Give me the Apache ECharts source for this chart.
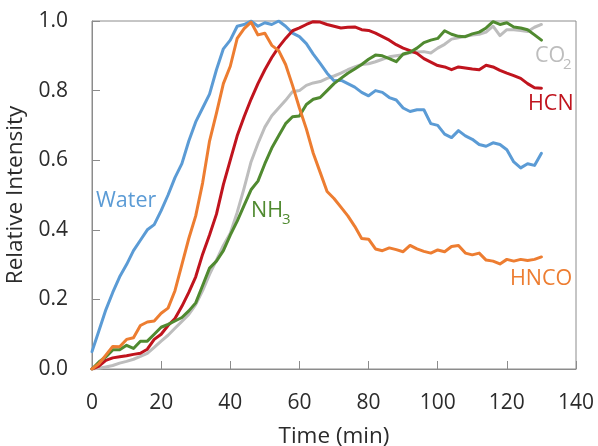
<!DOCTYPE html>
<html>
<head>
<meta charset="utf-8">
<script src="https://cdn.jsdelivr.net/npm/echarts@6/dist/echarts.min.js"></script>
<style>
  html, body { margin: 0; padding: 0; background: #fff; }
  #chart { width: 598px; height: 446px; }
</style>
</head>
<body>
<div id="chart"></div>
<script>
// Sampling times (min), one reading every 2 min
const times = [0,2,4,6,8,10,12,14,16,18,20,22,24,26,28,30,32,34,36,38,40,42,44,46,48,50,52,54,56,58,60,62,64,66,68,70,72,74,76,78,80,82,84,86,88,90,92,94,96,98,100,102,104,106,108,110,112,114,116,118,120,122,124,126,128,130];

// Relative intensity of each species
const water = [0.05,0.11,0.17,0.22,0.265,0.30,0.34,0.37,0.40,0.415,0.455,0.50,0.55,0.59,0.655,0.71,0.75,0.79,0.86,0.92,0.945,0.985,0.99,1.0,0.985,0.995,0.99,1.0,0.985,0.965,0.955,0.935,0.905,0.878,0.85,0.828,0.83,0.82,0.81,0.795,0.785,0.80,0.795,0.78,0.773,0.75,0.74,0.745,0.745,0.705,0.70,0.675,0.665,0.685,0.67,0.66,0.645,0.64,0.65,0.645,0.63,0.595,0.578,0.59,0.585,0.62];
const hcn = [0,0.008,0.025,0.032,0.035,0.038,0.042,0.045,0.057,0.085,0.10,0.125,0.145,0.18,0.22,0.265,0.33,0.385,0.445,0.53,0.60,0.67,0.725,0.775,0.82,0.86,0.895,0.925,0.95,0.972,0.98,0.99,0.998,0.997,0.99,0.985,0.98,0.982,0.983,0.975,0.973,0.965,0.955,0.945,0.932,0.922,0.915,0.907,0.892,0.882,0.872,0.868,0.86,0.868,0.865,0.862,0.86,0.873,0.868,0.858,0.85,0.843,0.835,0.82,0.808,0.807];
const hnco = [0,0.015,0.04,0.065,0.064,0.085,0.09,0.125,0.135,0.138,0.16,0.175,0.225,0.30,0.375,0.44,0.535,0.655,0.735,0.82,0.87,0.95,0.978,0.997,0.96,0.965,0.93,0.915,0.875,0.815,0.75,0.69,0.62,0.565,0.51,0.49,0.465,0.44,0.41,0.375,0.373,0.345,0.34,0.348,0.343,0.337,0.355,0.345,0.338,0.333,0.342,0.337,0.352,0.355,0.333,0.328,0.333,0.313,0.31,0.302,0.315,0.31,0.315,0.312,0.315,0.322];
const co2 = [0,0.002,0.006,0.01,0.017,0.022,0.028,0.036,0.045,0.062,0.08,0.097,0.117,0.137,0.157,0.185,0.225,0.272,0.313,0.355,0.39,0.45,0.52,0.595,0.648,0.695,0.728,0.75,0.772,0.797,0.80,0.815,0.822,0.826,0.835,0.842,0.85,0.86,0.868,0.875,0.877,0.883,0.89,0.897,0.90,0.903,0.909,0.911,0.912,0.908,0.922,0.933,0.948,0.952,0.956,0.96,0.962,0.968,0.985,0.958,0.975,0.975,0.973,0.97,0.982,0.99];
const nh3 = [0,0.02,0.035,0.055,0.055,0.068,0.059,0.08,0.08,0.10,0.12,0.128,0.138,0.148,0.167,0.19,0.24,0.29,0.31,0.34,0.385,0.425,0.47,0.515,0.54,0.59,0.635,0.67,0.705,0.725,0.727,0.76,0.775,0.78,0.80,0.82,0.835,0.85,0.862,0.875,0.89,0.902,0.90,0.892,0.883,0.905,0.91,0.922,0.938,0.945,0.95,0.972,0.962,0.956,0.955,0.963,0.968,0.98,0.998,0.99,0.995,0.983,0.98,0.975,0.96,0.945];

const COLORS = {
  water: '#5B9BD5',
  hcn: '#C0141E',
  hnco: '#ED7D31',
  co2: '#BDBDBD',
  nh3: '#508A30'
};

const pairs = vals => times.map((t, i) => [t, vals[i]]);

function lineSeries(name, vals, color) {
  return {
    name: name,
    type: 'line',
    data: pairs(vals),
    showSymbol: false,
    symbol: 'none',
    smooth: false,
    lineStyle: { color: color, width: 3, join: 'round', cap: 'round' },
    emphasis: { disabled: true }
  };
}

const FONT = '"Open Sans", "DejaVu Sans", sans-serif';
const TEXT = '#2b2b2b';

function tag(x, y, text, color, size) {
  return {
    type: 'text', left: x, top: y, silent: true,
    style: { text: text, fill: color, font: (size || 21.5) + 'px ' + FONT }
  };
}

const chart = echarts.init(document.getElementById('chart'), null, { renderer: 'canvas' });
chart.setOption({
  animation: false,
  backgroundColor: '#ffffff',
  grid: {
    left: 92, right: 22, top: 21, bottom: 77,
    outerBoundsMode: 'none', containLabel: false,
    show: true, borderColor: '#8c8c8c', borderWidth: 1, backgroundColor: 'transparent'
  },
  xAxis: {
    type: 'value', min: 0, max: 140, interval: 20,
    name: 'Time (min)', nameLocation: 'middle', nameGap: 56,
    nameTextStyle: { fontFamily: FONT, fontSize: 22.5, color: TEXT },
    axisLine: { show: true, lineStyle: { color: '#8c8c8c', width: 1 } },
    axisTick: { show: true, inside: true, length: 8, lineStyle: { color: '#8c8c8c' } },
    axisLabel: { fontFamily: FONT, fontSize: 21, color: TEXT, margin: 24 },
    splitLine: { show: false }
  },
  yAxis: {
    type: 'value', min: 0, max: 1, interval: 0.2,
    name: 'Relative Intensity', nameLocation: 'middle', nameGap: 51,
    nameTextStyle: { fontFamily: FONT, fontSize: 22.5, color: TEXT },
    axisLine: { show: true, lineStyle: { color: '#8c8c8c', width: 1 } },
    axisTick: { show: true, inside: true, length: 8, lineStyle: { color: '#8c8c8c' } },
    axisLabel: { fontFamily: FONT, fontSize: 21, color: TEXT, margin: 24,
      formatter: v => v.toFixed(1) },
    splitLine: { show: false }
  },
  series: [
    lineSeries('CO2', co2, COLORS.co2),
    lineSeries('Water', water, COLORS.water),
    lineSeries('HCN', hcn, COLORS.hcn),
    lineSeries('NH3', nh3, COLORS.nh3),
    lineSeries('HNCO', hnco, COLORS.hnco)
  ],
  graphic: [
    tag(96, 190, 'Water', COLORS.water),
    tag(251, 200, 'NH', COLORS.nh3),
    tag(282, 212, '3', COLORS.nh3, 15),
    tag(535, 45, 'CO', COLORS.co2),
    tag(563, 57, '2', COLORS.co2, 15),
    tag(528, 93, 'HCN', COLORS.hcn),
    tag(510, 268, 'HNCO', COLORS.hnco)
  ]
});
</script>
</body>
</html>
